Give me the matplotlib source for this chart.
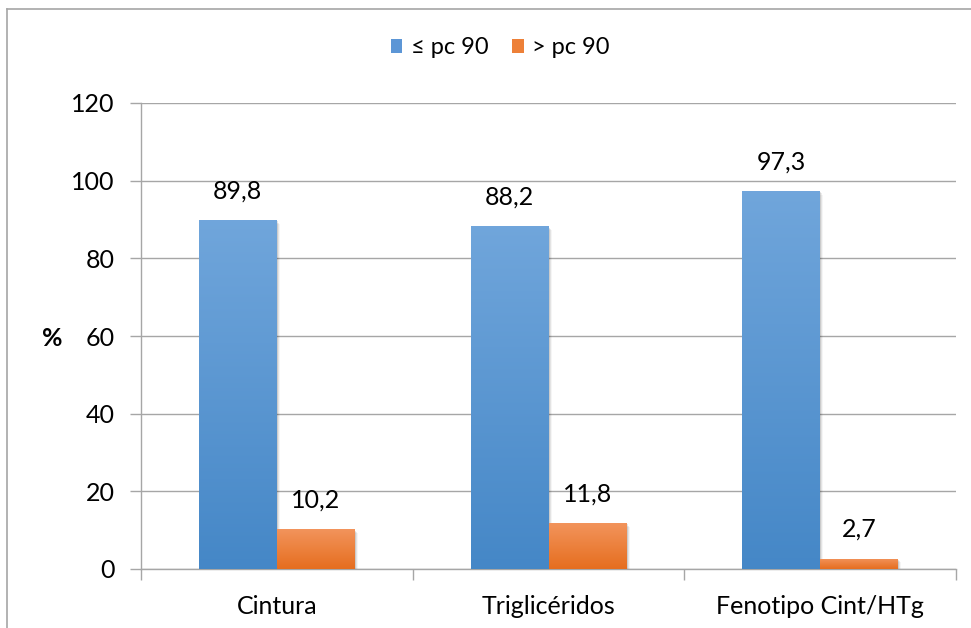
import matplotlib
matplotlib.use("Agg")
import matplotlib.pyplot as plt
import numpy as np
from matplotlib.colors import LinearSegmentedColormap
from matplotlib.patches import Rectangle
from matplotlib.lines import Line2D

categories = ["Cintura", "Triglicéridos", "Fenotipo Cint/HTg"]
series_names = ["≤ pc 90", "> pc 90"]
le_pc90 = [89.8, 88.2, 97.3]
gt_pc90 = [10.2, 11.8, 2.7]
value_labels_le = ["89,8", "88,2", "97,3"]
value_labels_gt = ["10,2", "11,8", "2,7"]
y_ticks = [0, 20, 40, 60, 80, 100, 120]

plt.rcParams['font.family'] = ['Lato', 'DejaVu Sans']
FS = 18

fig = plt.figure(figsize=(9.71, 6.28), dpi=100)
ax = fig.add_axes([141/971, 1-569/628, (956-141)/971, (569-103)/628])

blue_cmap = LinearSegmentedColormap.from_list("b", [(0.27, 0.53, 0.78), (0.44, 0.65, 0.86)])
orange_cmap = LinearSegmentedColormap.from_list("o", [(0.90, 0.43, 0.12), (0.95, 0.58, 0.36)])

w = 0.287
x = np.arange(len(categories))

def grad_bar(xl, h, cmap):
    # shadow
    for k, a in enumerate([0.10, 0.07, 0.04]):
        sh = Rectangle((xl + 0.004 * (k + 1), 0), w, h - 0.3 * (k + 1), facecolor='black', alpha=a,
                       edgecolor='none', zorder=2)
        ax.add_patch(sh)
    rect = Rectangle((xl, 0), w, h, facecolor='none', edgecolor='none', zorder=3)
    ax.add_patch(rect)
    grad = np.linspace(0, 1, 256).reshape(-1, 1)
    im = ax.imshow(grad, cmap=cmap, aspect='auto', extent=(xl, xl + w, 0, h), origin='lower', zorder=3)
    im.set_clip_path(rect)

for i in range(len(categories)):
    grad_bar(x[i] - w, le_pc90[i], blue_cmap)
    grad_bar(x[i], gt_pc90[i], orange_cmap)
    ax.annotate(value_labels_le[i], (x[i] - w / 2, le_pc90[i]), xytext=(0, 21), textcoords='offset points',
                ha='center', va='center', fontsize=FS, zorder=5)
    ax.annotate(value_labels_gt[i], (x[i] + w / 2, gt_pc90[i]), xytext=(0, 21), textcoords='offset points',
                ha='center', va='center', fontsize=FS, zorder=5)

ax.set_xlim(-0.5, 2.5)
ax.set_ylim(0, 120)
ax.set_yticks(y_ticks)
ax.set_yticklabels([str(t) for t in y_ticks], fontsize=FS)
ax.yaxis.grid(True, color='#a6a6a6', linewidth=1.0)
ax.set_axisbelow(True)
ax.set_xticks([-0.5, 0.5, 1.5, 2.5])
ax.set_xticklabels([])
ax.set_xticks(x, minor=True)
ax.set_xticklabels(categories, minor=True, fontsize=FS)
ax.tick_params(axis='x', which='minor', length=0, pad=19)
ax.tick_params(axis='x', which='major', length=8, color='#a6a6a6', width=1)
ax.tick_params(axis='y', length=8, color='#a6a6a6', width=1, pad=11)
for s in ['top', 'right']:
    ax.spines[s].set_visible(False)
for s in ['left', 'bottom']:
    ax.spines[s].set_color('#a6a6a6')
    ax.spines[s].set_linewidth(1.0)

ax.set_ylabel('%', rotation=0, fontsize=FS, fontweight='bold', labelpad=0, va='center', ha='center')
ax.yaxis.set_label_coords(-89/815, (569-338)/466)

handles = [Rectangle((0, 0), 1, 1, facecolor=(0.36, 0.59, 0.84)),
           Rectangle((0, 0), 1, 1, facecolor=(0.93, 0.50, 0.22))]
fig.legend(handles, series_names, loc='center', bbox_to_anchor=(500/971, 1-48/628), ncol=2, frameon=False,
           fontsize=17, handlelength=0.5, handleheight=0.5, handletextpad=0.35, columnspacing=1.0)

fig.add_artist(Line2D([7/971, 7/971], [0, 1-9/628], color='#a6a6a6', linewidth=1.2, transform=fig.transFigure))
fig.add_artist(Line2D([7/971, 1], [1-9/628, 1-9/628], color='#a6a6a6', linewidth=1.2, transform=fig.transFigure))

fig.savefig('out.png', dpi=100)
